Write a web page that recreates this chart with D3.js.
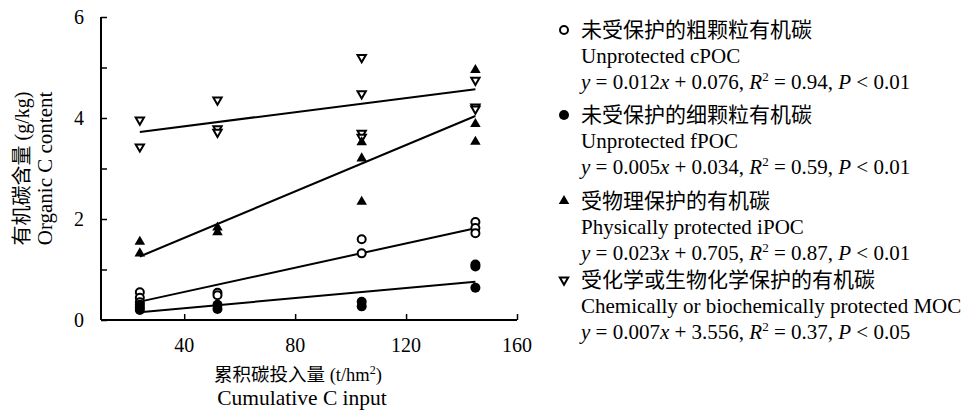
<!DOCTYPE html>
<html>
<head>
<meta charset="utf-8">
<script src="https://cdn.jsdelivr.net/npm/d3@7"></script>
<style>
  body { margin: 0; background: #fff; }
  svg text { font-family: "Liberation Serif", "Noto Sans CJK SC", serif; fill: #000; }
</style>
</head>
<body>
<div id="chart"></div>
<script>
const xTicks = [40, 80, 120, 160];
const yTicks = [0, 2, 4, 6];
const yMinorTicks = [1, 3, 5];

// x = cumulative C input, y = organic C content
const cpocX = [24, 24, 24, 52, 52, 104, 104, 145, 145, 145];
const cpocY = [0.55, 0.44, 0.35, 0.54, 0.49, 1.60, 1.32, 1.94, 1.82, 1.72];
const fpocX = [24, 24, 24, 52, 52, 104, 104, 145, 145, 145];
const fpocY = [0.30, 0.25, 0.20, 0.30, 0.22, 0.36, 0.27, 1.10, 1.06, 0.64];
const ipocX = [24, 24, 52, 52, 104, 104, 104, 145, 145, 145];
const ipocY = [1.55, 1.32, 1.83, 1.74, 3.52, 3.20, 2.34, 4.95, 3.88, 3.53];
const mocX = [24, 24, 52, 52, 52, 104, 104, 104, 104, 145, 145, 145];
const mocY = [3.96, 3.43, 4.36, 3.79, 3.72, 5.20, 4.48, 3.70, 3.62, 4.75, 4.22, 4.18];

const seriesNames = ["未受保护的粗颗粒有机碳", "未受保护的细颗粒有机碳", "受物理保护的有机碳", "受化学或生物化学保护的有机碳"];
const seriesNamesEn = ["Unprotected cPOC", "Unprotected fPOC", "Physically protected iPOC", "Chemically or biochemically protected MOC"];
const slopes = [0.012, 0.005, 0.023, 0.007];
const intercepts = [0.076, 0.034, 0.705, 3.556];
const slopeLabels = ["0.012", "0.005", "0.023", "0.007"];
const interceptLabels = ["0.076", "0.034", "0.705", "3.556"];
const r2Labels = ["0.94", "0.59", "0.87", "0.37"];
const pLabels = ["0.01", "0.01", "0.01", "0.05"];
const fitRange = [24, 145];

const width = 967, height = 413;
const svg = d3.select("#chart").append("svg")
    .attr("width", width)
    .attr("height", height);

const x = d3.scaleLinear().domain([10, 160]).range([101, 517]);
const y = d3.scaleLinear().domain([0, 6]).range([320, 17]);

// axes with inward ticks
const xAxis = svg.append("g")
    .attr("transform", `translate(0,${y(0)})`)
    .call(d3.axisTop(x).tickValues(xTicks).tickSize(6).tickFormat(""));
xAxis.select(".domain").attr("d", `M${x(10)},0H${x(160)}`);

const yAxis = svg.append("g")
    .attr("transform", `translate(${x(10)},0)`)
    .call(d3.axisRight(y).tickValues(yTicks.concat(yMinorTicks)).tickSize(6).tickFormat(""));
yAxis.select(".domain").attr("d", `M0,${y(0)}V${y(6)}`);

svg.selectAll(".domain").attr("stroke", "#000").attr("stroke-width", 2);
svg.selectAll(".tick line").attr("stroke", "#000").attr("stroke-width", 1.5);

svg.selectAll(".xlab")
    .data(xTicks)
    .enter().append("text")
    .attr("x", d => x(d))
    .attr("y", y(0) + 32)
    .attr("text-anchor", "middle")
    .style("font-size", "20px")
    .text(d => d);

svg.selectAll(".ylab")
    .data(yTicks)
    .enter().append("text")
    .attr("x", x(10) - 17)
    .attr("y", d => y(d) + 7)
    .attr("text-anchor", "end")
    .style("font-size", "20px")
    .text(d => d);

// axis titles
const xt = svg.append("text")
    .attr("x", 298)
    .attr("y", 381)
    .attr("text-anchor", "middle")
    .style("font-size", "18.5px");
xt.append("tspan").text("累积碳投入量 (t/hm");
xt.append("tspan").attr("dy", -7).style("font-size", "12px").text("2");
xt.append("tspan").attr("dy", 7).text(")");

svg.append("text")
    .attr("x", 302)
    .attr("y", 405)
    .attr("text-anchor", "middle")
    .style("font-size", "21.5px")
    .text("Cumulative C input");

svg.append("text")
    .attr("transform", `translate(29,${(y(0) + y(6)) / 2}) rotate(-90)`)
    .attr("text-anchor", "middle")
    .style("font-size", "20px")
    .text("有机碳含量 (g/kg)");

svg.append("text")
    .attr("transform", `translate(52,${(y(0) + y(6)) / 2}) rotate(-90)`)
    .attr("text-anchor", "middle")
    .style("font-size", "21px")
    .text("Organic C content");

// fit lines
const line = d3.line().x(d => x(d[0])).y(d => y(d[1]));
slopes.forEach((s, i) => {
    svg.append("path")
        .attr("fill", "none")
        .attr("stroke", "#000")
        .attr("stroke-width", 2)
        .attr("d", line(fitRange.map(v => [v, s * v + intercepts[i]])));
});

// markers
const triFilled = d3.symbol().type(d3.symbolTriangle).size(48);
const triOpen = d3.symbol().type(d3.symbolTriangle).size(30);
function drawMarker(g, i) {
    if (i === 0) {
        g.append("circle").attr("r", 4).attr("fill", "#fff").attr("stroke", "#000").attr("stroke-width", 2);
    } else if (i === 1) {
        g.append("circle").attr("r", 5).attr("fill", "#000");
    } else if (i === 2) {
        g.append("path").attr("d", triFilled()).attr("fill", "#000");
    } else {
        g.append("path").attr("d", triOpen()).attr("transform", "rotate(180)")
            .attr("fill", "#fff").attr("stroke", "#000").attr("stroke-width", 2);
    }
}

const seriesX = [cpocX, fpocX, ipocX, mocX];
const seriesY = [cpocY, fpocY, ipocY, mocY];
const drawOrder = [3, 0, 1, 2];
drawOrder.forEach(i => {
    seriesX[i].forEach((xv, j) => {
        const g = svg.append("g").attr("transform", `translate(${x(xv)},${y(seriesY[i][j])})`);
        drawMarker(g, i);
    });
});

// legend
const legendTop = [30, 115, 201, 280];
seriesNames.forEach((name, i) => {
    const top = legendTop[i];
    const mg = svg.append("g").attr("transform", `translate(564,${top})`);
    drawMarker(mg, i);

    svg.append("text")
        .attr("x", 581).attr("y", top + 7)
        .style("font-size", "21px")
        .text(name);
    svg.append("text")
        .attr("x", 581).attr("y", top + 33)
        .style("font-size", "21px")
        .text(seriesNamesEn[i]);

    const eq = svg.append("text")
        .attr("x", 581).attr("y", top + 59)
        .style("font-size", "21px");
    eq.append("tspan").style("font-style", "italic").text("y");
    eq.append("tspan").text(` = ${slopeLabels[i]}`);
    eq.append("tspan").style("font-style", "italic").text("x");
    eq.append("tspan").text(` + ${interceptLabels[i]}, `);
    eq.append("tspan").style("font-style", "italic").text("R");
    eq.append("tspan").attr("dy", -8).style("font-size", "13px").text("2");
    eq.append("tspan").attr("dy", 8).text(` = ${r2Labels[i]}, `);
    eq.append("tspan").style("font-style", "italic").text("P");
    eq.append("tspan").text(` < ${pLabels[i]}`);
});
</script>
</body>
</html>
